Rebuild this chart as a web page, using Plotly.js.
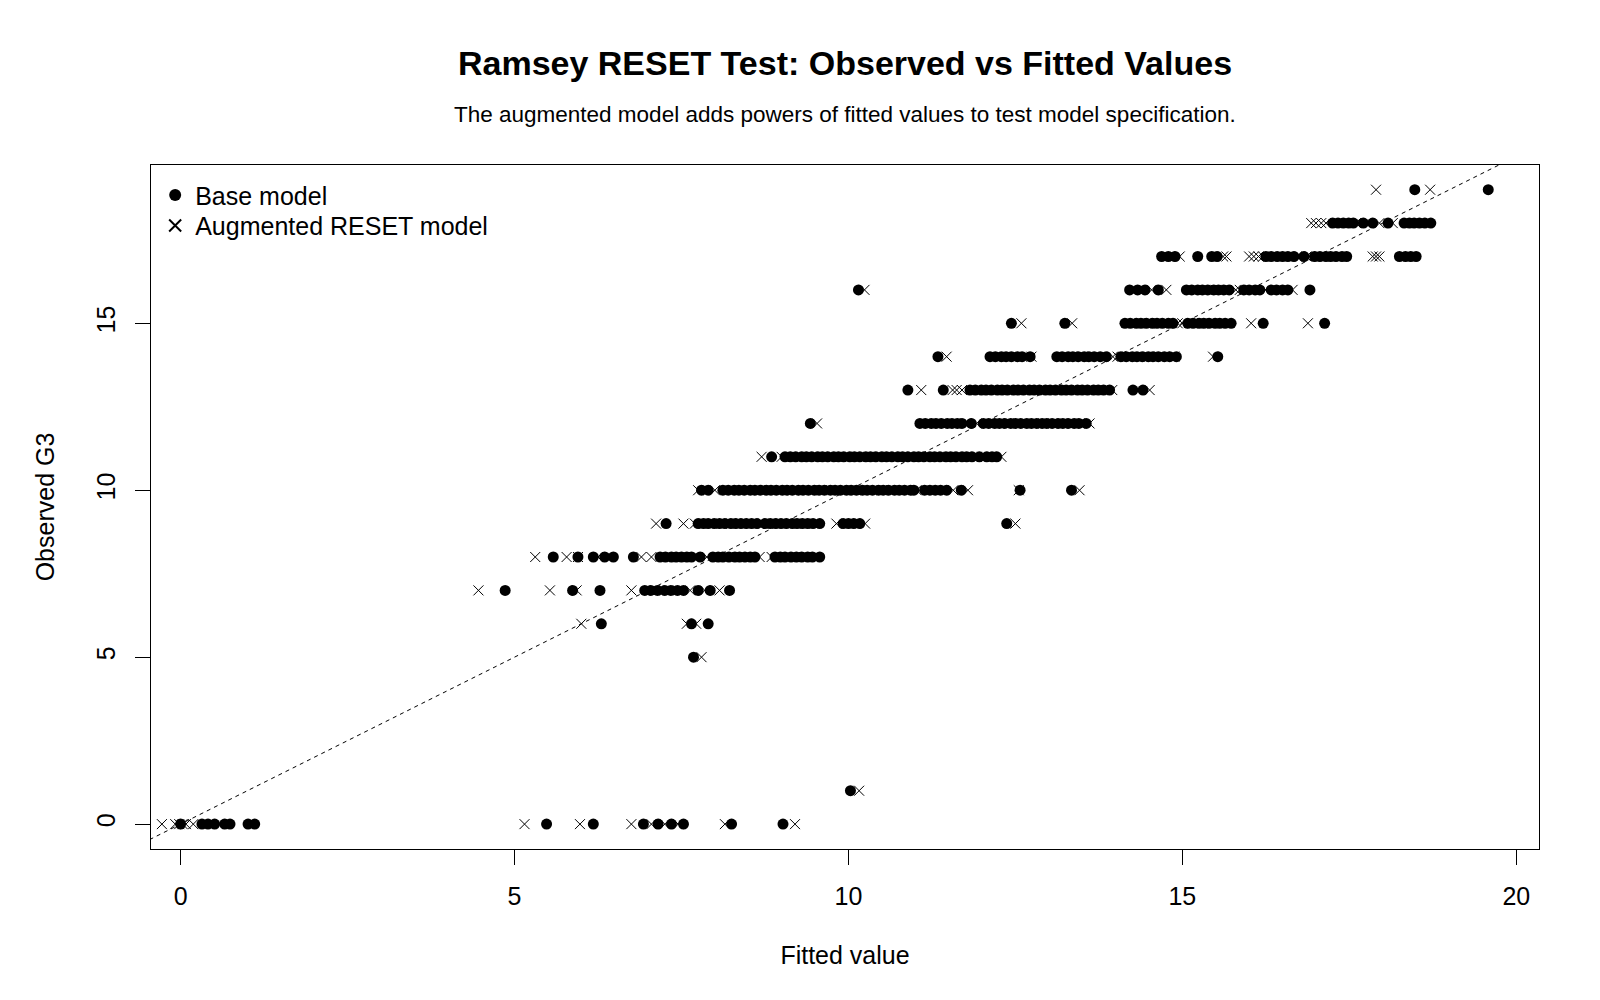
<!DOCTYPE html>
<html>
<head>
<meta charset="utf-8">
<script src="https://cdn.plot.ly/plotly-3.0.1.min.js"></script>
<style>html,body{margin:0;padding:0;background:#fff;}#chart{width:1600px;height:1000px;}</style>
</head>
<body>
<div id="chart"></div>
<script>
// Observed G3 levels (one row of points per level)
const obsLevels = [0, 1, 5, 6, 7, 8, 9, 10, 11, 12, 13, 14, 15, 16, 17, 18, 19];

// Base model fitted values, one list per observed level
const baseFitted = [
  [0.0, 0.32, 0.41, 0.51, 0.66, 0.74, 1.01, 1.11, 5.48, 6.18, 6.93, 7.15, 7.35, 7.53, 8.25, 9.02],
  [10.03],
  [7.68],
  [6.3, 7.65, 7.9],
  [4.86, 5.87, 6.28, 6.95, 7.04, 7.14, 7.25, 7.34, 7.44, 7.53, 7.75, 7.93, 8.22],
  [5.58, 5.95, 6.18, 6.35, 6.48, 6.78, 7.18, 7.26, 7.35, 7.42, 7.5, 7.58, 7.65, 7.78, 7.97, 8.05, 8.12, 8.21, 8.3, 8.37, 8.45, 8.53, 8.6,
   8.9, 8.98, 9.05, 9.14, 9.22, 9.3, 9.39, 9.46, 9.57],
  [7.27, 7.75, 7.83, 7.9, 7.99, 8.07, 8.15, 8.24, 8.31, 8.39, 8.47, 8.55, 8.63, 8.75, 8.83, 8.91, 8.99, 9.07, 9.16, 9.23, 9.31, 9.39, 9.47, 9.57,
   9.92, 10.0, 10.08, 10.17, 12.37],
  [7.8, 7.9, 8.12, 8.2, 8.29, 8.36, 8.44, 8.53, 8.6, 8.68, 8.77, 8.84, 8.92, 9.01, 9.08, 9.16, 9.25, 9.32, 9.4, 9.49, 9.56, 9.64, 9.73, 9.8,
   9.88, 9.97, 10.04, 10.12, 10.21, 10.28, 10.36, 10.45, 10.52, 10.6, 10.69, 10.76, 10.84, 10.93, 10.98, 11.14, 11.22, 11.3, 11.38, 11.47,
   11.69, 12.57, 13.34],
  [8.85, 9.05, 9.13, 9.21, 9.3, 9.37, 9.45, 9.54, 9.61, 9.69, 9.78, 9.85, 9.93, 10.02, 10.09, 10.17, 10.26, 10.33, 10.41, 10.5, 10.57,
   10.65, 10.74, 10.81, 10.89, 10.98, 11.05, 11.13, 11.22, 11.29, 11.37, 11.46, 11.53, 11.61, 11.7, 11.77, 11.85, 11.96, 12.07, 12.15, 12.22],
  [9.43, 11.07, 11.15, 11.24, 11.31, 11.39, 11.48, 11.55, 11.63, 11.7, 11.84, 12.02, 12.1, 12.19, 12.26, 12.34, 12.43, 12.5, 12.58, 12.67,
   12.74, 12.82, 12.9, 12.97, 13.05, 13.14, 13.21, 13.29, 13.38, 13.45, 13.56],
  [10.89, 11.42, 11.82, 11.9, 11.99, 12.06, 12.14, 12.23, 12.3, 12.38, 12.47, 12.54, 12.62, 12.71, 12.78, 12.86, 12.95, 13.02, 13.1, 13.19,
   13.26, 13.34, 13.43, 13.5, 13.58, 13.67, 13.74, 13.82, 13.91, 14.26, 14.41],
  [11.34, 12.12, 12.2, 12.29, 12.36, 12.44, 12.53, 12.6, 12.72, 13.12, 13.2, 13.29, 13.36, 13.44, 13.53, 13.6, 13.68, 13.77, 13.86, 14.08,
   14.16, 14.25, 14.32, 14.4, 14.49, 14.56, 14.64, 14.73, 14.81, 14.91, 15.53],
  [12.44, 13.24, 14.14, 14.22, 14.31, 14.38, 14.46, 14.55, 14.62, 14.7, 14.79, 14.86, 15.08, 15.16, 15.25, 15.32, 15.4, 15.49, 15.56,
   15.64, 15.73, 16.21, 17.13],
  [10.15, 14.21, 14.33, 14.44, 14.64, 15.06, 15.14, 15.23, 15.3, 15.38, 15.47, 15.54, 15.62, 15.7, 15.92, 16.0, 16.09, 16.16, 16.33,
   16.41, 16.5, 16.58, 16.91],
  [14.69, 14.79, 14.89, 15.23, 15.44, 15.52, 16.25, 16.33, 16.42, 16.5, 16.58, 16.67, 16.82, 16.98, 17.06, 17.15, 17.22, 17.3, 17.39,
   17.46, 18.25, 18.34, 18.42, 18.5],
  [17.25, 17.33, 17.41, 17.49, 17.56, 17.71, 17.85, 18.08, 18.32, 18.4, 18.47, 18.55, 18.63, 18.72],
  [18.48, 19.58]
];

// Augmented RESET model fitted values, one list per observed level
const augFitted = [
  [-0.28, -0.08, -0.02, 0.03, 0.08, 0.19, 5.15, 5.98, 6.75, 7.05, 7.25, 7.45, 8.15, 9.2],
  [10.16],
  [7.8],
  [6.0, 7.58, 7.72],
  [4.46, 5.53, 5.93, 6.75, 7.1, 7.3, 7.63, 7.85, 8.07],
  [5.31, 5.78, 5.95, 6.25, 6.42, 6.9, 7.05, 7.3, 7.55, 7.88, 8.2, 8.67, 8.85, 9.2, 9.5],
  [7.12, 7.53, 7.7, 8.1, 8.4, 8.72, 9.0, 9.35, 9.82, 10.25, 12.5],
  [7.75, 8.0, 8.67, 9.17, 9.6, 10.1, 10.5, 11.02, 11.57, 11.79, 12.55, 13.46],
  [8.7, 9.0, 9.6, 9.97, 10.3, 10.81, 11.5, 11.92, 12.0, 12.29],
  [9.53, 11.75, 11.92, 12.4, 12.92, 13.2, 13.61],
  [11.09, 11.56, 11.62, 11.7, 12.4, 12.82, 13.3, 13.85, 13.95, 14.51],
  [11.47, 12.74, 13.5, 13.96, 14.03, 14.5, 14.88, 15.46],
  [12.59, 13.35, 14.5, 14.93, 15.0, 15.3, 16.03, 16.88],
  [10.24, 14.54, 14.76, 15.5, 15.8, 15.86, 16.24, 16.65],
  [14.96, 15.61, 15.66, 16.0, 16.07, 16.14, 16.21, 16.76, 16.86, 16.91, 17.85, 17.9, 17.95],
  [16.93, 17.0, 17.08, 17.15, 17.6, 17.95, 18.15],
  [17.9, 18.71]
];

// Reference line y = x
const refLineX = [-1, 21];
const refLineY = [-1, 21];

const xTicks = [0, 5, 10, 15, 20];
const yTicks = [0, 5, 10, 15];

function flatten(lists) {
  const xs = [], ys = [];
  lists.forEach((row, i) => row.forEach(v => { xs.push(v); ys.push(obsLevels[i]); }));
  return {xs, ys};
}
const base = flatten(baseFitted);
const aug = flatten(augFitted);

const FONT = 'Liberation Sans, Arial, Helvetica, sans-serif';

const traces = [
  {
    x: refLineX, y: refLineY, mode: 'lines', type: 'scatter', showlegend: false, hoverinfo: 'skip',
    line: {color: '#000', width: 1, dash: '4px,4px'}
  },
  {
    x: base.xs, y: base.ys, mode: 'markers', type: 'scatter', name: 'Base model', legend: 'legend',
    marker: {symbol: 'circle', size: 11, color: '#000', line: {width: 0}}
  },
  {
    x: aug.xs, y: aug.ys, mode: 'markers', type: 'scatter', name: 'Augmented RESET model', legend: 'legend2',
    marker: {symbol: 'x-thin-open', size: 10, color: '#000', line: {width: 1, color: '#000'}}
  }
];

const axisCommon = {
  showgrid: false, zeroline: false, showline: true, linecolor: '#000', linewidth: 1, mirror: true,
  ticks: 'outside', ticklen: 15, tickwidth: 1, tickcolor: '#000',
  tickfont: {family: FONT, size: 25, color: '#000'}
};

const legendCommon = {
  xanchor: 'left', yanchor: 'top', bgcolor: 'rgba(0,0,0,0)',
  font: {family: FONT, size: 25, color: '#000'}, tracegroupgap: 0, itemsizing: 'constant'
};

const layout = {
  width: 1600, height: 1000,
  paper_bgcolor: '#fff', plot_bgcolor: '#fff',
  margin: {l: 151, r: 61, t: 165, b: 151},
  title: {
    text: 'Ramsey RESET Test: Observed vs Fitted Values',
    font: {family: FONT, size: 34, color: '#000', weight: 'bold'},
    x: 0.5, xref: 'paper', xanchor: 'center',
    y: 0.937, yref: 'container', yanchor: 'middle'
  },
  annotations: [{
    text: 'The augmented model adds powers of fitted values to test model specification.',
    xref: 'paper', yref: 'paper', x: 0.5, y: 1.0731, xanchor: 'center', yanchor: 'middle',
    showarrow: false, font: {family: FONT, size: 22.5, color: '#000'}
  }],
  xaxis: Object.assign({}, axisCommon, {
    range: [-0.443, 20.34], tickvals: xTicks, ticktext: xTicks.map(String),
    ticklabelstandoff: 10,
    title: {text: 'Fitted value', font: {family: FONT, size: 25, color: '#000'}, standoff: 37}
  }),
  yaxis: Object.assign({}, axisCommon, {
    range: [-0.745, 19.74], tickvals: yTicks, ticktext: yTicks.map(String), tickangle: -90,
    ticklabelstandoff: 10,
    title: {text: 'Observed G3', font: {family: FONT, size: 25, color: '#000'}, standoff: 30}
  }),
  showlegend: true,
  legend: Object.assign({}, legendCommon, {x: 0.003, y: 0.9894}),
  legend2: Object.assign({}, legendCommon, {x: 0.003, y: 0.9448}),
  hovermode: false
};

Plotly.newPlot('chart', traces, layout, {staticPlot: true, displayModeBar: false});
</script>
</body>
</html>
